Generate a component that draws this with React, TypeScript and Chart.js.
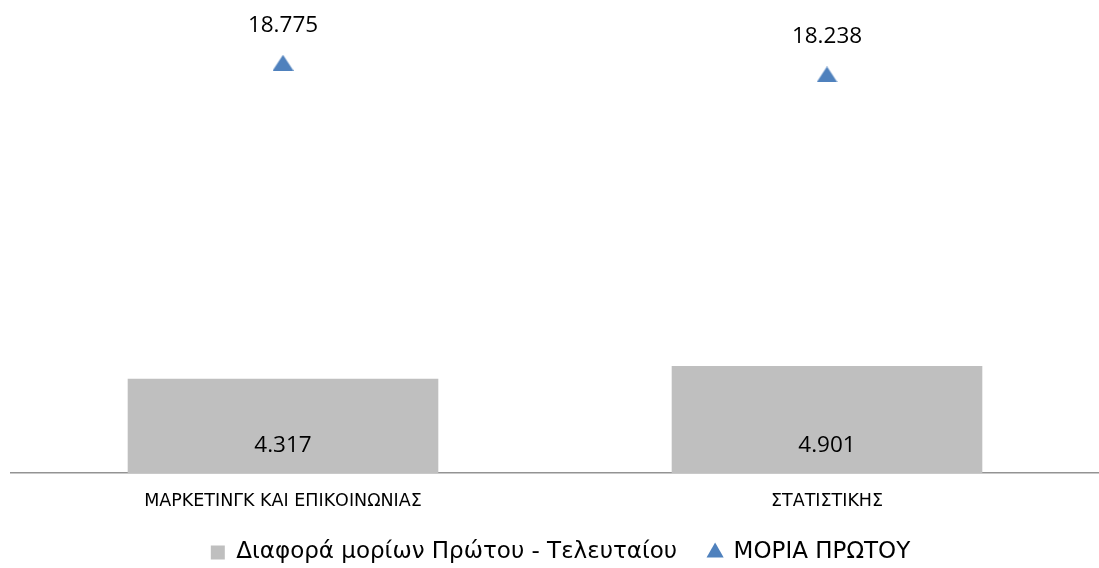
import React, { useEffect, useRef } from "react";
import { Chart, registerables } from "chart.js";

Chart.register(...registerables);

const categories = ["ΜΑΡΚΕΤΙΝΓΚ ΚΑΙ ΕΠΙΚΟΙΝΩΝΙΑΣ", "ΣΤΑΤΙΣΤΙΚΗΣ"];
const diffValues = [4317, 4901];
const firstValues = [18775, 18238];
const seriesNames = ["Διαφορά μορίων Πρώτου - Τελευταίου", "ΜΟΡΙΑ ΠΡΩΤΟΥ"];

const fmt = (v: number) => String(v).replace(/\B(?=(\d{3})+(?!\d))/g, ".");

const NUM_FONT = "'Open Sans', 'Noto Sans', sans-serif";
const TEXT_FONT = "'DejaVu Sans', 'Noto Sans', sans-serif";
const BAR_COLOR = "#BFBFBF";
const TRI_COLOR = "#4F81BD";

function makeTriangle(w: number, h: number, color: string) {
  const c = document.createElement("canvas");
  c.width = w;
  c.height = h;
  const g = c.getContext("2d")!;
  g.fillStyle = color;
  g.beginPath();
  g.moveTo(w / 2, 0);
  g.lineTo(w, h);
  g.lineTo(0, h);
  g.closePath();
  g.fill();
  return c;
}

const valueLabels = {
  id: "valueLabels",
  afterDatasetsDraw(chart: any) {
    const ctx = chart.ctx;
    ctx.save();
    ctx.font = `22.5px ${NUM_FONT}`;
    ctx.fillStyle = "#000";
    ctx.textAlign = "center";
    ctx.textBaseline = "middle";
    chart.getDatasetMeta(0).data.forEach((el: any, i: number) => {
      ctx.fillText(fmt(diffValues[i]), el.x, el.base - 27);
    });
    chart.getDatasetMeta(1).data.forEach((el: any, i: number) => {
      ctx.fillText(fmt(firstValues[i]), el.x, el.y - 37.5);
    });
    ctx.restore();
  },
};

export default function App() {
  const ref = useRef<HTMLCanvasElement>(null);
  useEffect(() => {
    if (!ref.current) return;
    const tri = makeTriangle(21, 16, TRI_COLOR);
    const chart = new Chart(ref.current, {
      type: "bar",
      data: {
        labels: categories,
        datasets: [
          {
            type: "bar",
            label: seriesNames[0],
            data: diffValues,
            backgroundColor: BAR_COLOR,
            borderWidth: 0,
            categoryPercentage: 1,
            barPercentage: 0.571,
            pointStyle: "rect",
          },
          {
            type: "line",
            label: seriesNames[1],
            data: firstValues,
            showLine: false,
            pointStyle: tri,
            pointRadius: 11,
            pointBackgroundColor: TRI_COLOR,
            pointBorderColor: TRI_COLOR,
            backgroundColor: TRI_COLOR,
            borderColor: TRI_COLOR,
            pointBorderWidth: 0,
          } as any,
        ],
      },
      options: {
        animation: false,
        responsive: true,
        maintainAspectRatio: false,
        layout: { padding: { left: 11, right: 0, top: 36, bottom: 0 } },
        scales: {
          x: {
            grid: { display: false },
            border: { display: true, color: "#939393", width: 1.5 },
            ticks: { color: "#000", font: { family: TEXT_FONT, size: 17.5 }, padding: 10 },
            afterFit: (scale: any) => {
              scale.height -= 12;
            },
          },
          y: {
            display: false,
            min: 0,
            max: 20000,
          },
        },
        plugins: {
          legend: {
            position: "bottom",
            labels: {
              usePointStyle: true,
              boxWidth: 14,
              boxHeight: 14,
              padding: 31,
              color: "#000",
              font: { family: TEXT_FONT, size: 23 },
              generateLabels: (c: any) => {
                const items = Chart.defaults.plugins.legend.labels.generateLabels(c);
                items.forEach((it: any, i: number) => {
                  it.pointStyle = i === 0 ? "rect" : "triangle";
                  it.fillStyle = i === 0 ? BAR_COLOR : TRI_COLOR;
                  it.strokeStyle = i === 0 ? BAR_COLOR : TRI_COLOR;
                  it.lineWidth = 0;
                });
                return items;
              },
            },
          },
          tooltip: { enabled: false },
        },
      },
      plugins: [valueLabels],
    });
    return () => chart.destroy();
  }, []);
  return (
    <div style={{ position: "fixed", left: 0, top: 0, width: 1099, height: 568, overflow: "hidden", background: "#fff" }}>
      <div style={{ position: "relative", width: 1110, height: 574 }}>
        <canvas ref={ref} />
      </div>
    </div>
  );
}
